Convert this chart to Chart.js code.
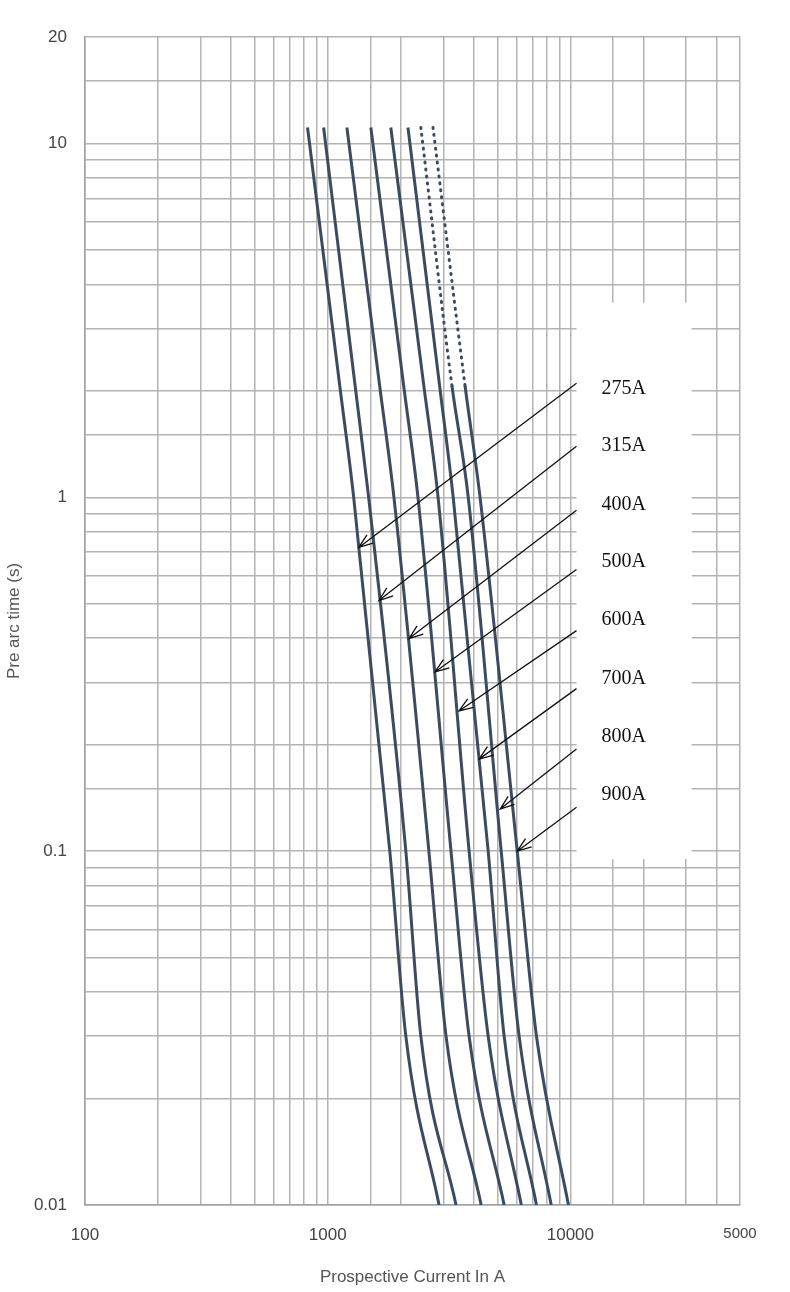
<!DOCTYPE html>
<html>
<head>
<meta charset="utf-8">
<script src="https://cdn.jsdelivr.net/npm/chart.js@4"></script>
<style>
  html, body { margin: 0; padding: 0; background: #fff; }
  #wrap { width: 790px; height: 1292px; }
</style>
</head>
<body>
<div id="wrap"><canvas id="fuseChart"></canvas></div>
<script>
// pre arc time points (s) shared by all curves
const times = [11.1, 2.07, 1, 0.1, 0.03, 0.01];

const ratings = ['275A', '315A', '400A', '500A', '600A', '700A', '800A', '900A'];

// prospective current (A) for each rating at the times above
const current275 = [826, 1121, 1280, 1803, 2099, 2877];
const current315 = [962, 1297, 1475, 2099, 2420, 3380];
const current400 = [1200, 1637, 1875, 2612, 3074, 4290];
const current500 = [1506, 2056, 2355, 3222, 3826, 5335];
const current600 = [1820, 2489, 2850, 3826, 4585, 6280];
const current700 = [2142, 2891, 3290, 4585, 5335, 7250];
const current800 = [2420, 3250, 3795, 5188, 6150, 8340];
const current900 = [2716, 3680, 4245, 6040, 7250, 9820];
const allCurrents = [current275, current315, current400, current500,
                     current600, current700, current800, current900];

// dotted (unverified) part above this time for the last two curves
const dottedAbove = 2.5;

// arrow annotation: start (at the label box) and tip (on the curve)
const arrowStartCurrent = 10600;
const arrowStartTime = [2.10, 1.395, 0.919, 0.625, 0.42, 0.288, 0.1945, 0.133];
const arrowTipCurrent = [1343, 1626, 2163, 2768, 3475, 4205, 5140, 6040];
const arrowTipTime = [0.722, 0.511, 0.399, 0.321, 0.249, 0.182, 0.1315, 0.1];
const labelCurrent = 13430;
const labelTime = [2.03, 1.395, 0.955, 0.659, 0.451, 0.307, 0.21, 0.144];
// white label box in data coordinates
const boxCurrent = [10600, 31600];
const boxTime = [3.55, 0.095];

const xTickLabels = { 100: '100', 1000: '1000', 10000: '10000', 50000: '5000' };
const yTickLabels = { 0.01: '0.01', 0.1: '0.1', 1: '1', 10: '10', 20: '20' };

const lineColor = '#3d4b60';

const datasets = allCurrents.map((cur, i) => ({
  label: ratings[i],
  data: cur.map((c, k) => ({ x: c, y: times[k] })),
  borderColor: lineColor,
  borderWidth: 3,
  pointRadius: 0,
  cubicInterpolationMode: 'monotone',
  fill: false,
  segment: i >= 6 ? {
    borderDash: ctx => ctx.p0.parsed.y > dottedAbove ? [1, 6] : undefined,
    borderCapStyle: ctx => ctx.p0.parsed.y > dottedAbove ? 'round' : 'butt'
  } : undefined
}));

const labelPlugin = {
  id: 'labelBox',
  afterDatasetsDraw(chart) {
    const ctx = chart.ctx;
    const xs = chart.scales.x, ys = chart.scales.y;
    const bx0 = xs.getPixelForValue(boxCurrent[0]);
    const bx1 = xs.getPixelForValue(boxCurrent[1]);
    const by0 = ys.getPixelForValue(boxTime[0]);
    const by1 = ys.getPixelForValue(boxTime[1]);
    ctx.save();
    ctx.fillStyle = '#fff';
    ctx.fillRect(bx0, by0, bx1 - bx0, by1 - by0);
    ctx.strokeStyle = '#111';
    ctx.fillStyle = '#111';
    ctx.lineWidth = 1.3;
    ratings.forEach((r, i) => {
      const sx = xs.getPixelForValue(arrowStartCurrent);
      const sy = ys.getPixelForValue(arrowStartTime[i]);
      const tx = xs.getPixelForValue(arrowTipCurrent[i]);
      const ty = ys.getPixelForValue(arrowTipTime[i]);
      ctx.beginPath();
      ctx.moveTo(sx, sy);
      ctx.lineTo(tx, ty);
      const a = Math.atan2(sy - ty, sx - tx);
      const h = 15;
      ctx.moveTo(tx + h * Math.cos(a - 0.35), ty + h * Math.sin(a - 0.35));
      ctx.lineTo(tx, ty);
      ctx.lineTo(tx + h * Math.cos(a + 0.35), ty + h * Math.sin(a + 0.35));
      ctx.stroke();
      ctx.font = '20px "Liberation Serif"';
      ctx.textBaseline = 'middle';
      ctx.fillText(r, xs.getPixelForValue(labelCurrent), ys.getPixelForValue(labelTime[i]));
    });
    ctx.restore();
  }
};

new Chart(document.getElementById('fuseChart'), {
  type: 'line',
  data: { datasets },
  plugins: [labelPlugin],
  options: {
    responsive: true,
    maintainAspectRatio: false,
    animation: false,
    layout: { padding: { top: 37, right: 50, left: 0, bottom: 0 } },
    plugins: { legend: { display: false }, tooltip: { enabled: false } },
    scales: {
      x: {
        type: 'logarithmic',
        min: 100,
        max: 50000,
        grid: { color: '#b3b3b3', lineWidth: 1.5, drawTicks: false },
        border: { color: '#a0a0a0', width: 1.5 },
        afterFit: s => { s.height = 87; },
        afterBuildTicks: s => {
          s.ticks = s.ticks.filter(t => t.value <= 50000);
          if (!s.ticks.find(t => t.value === 50000)) s.ticks.push({ value: 50000 });
        },
        ticks: {
          autoSkip: false,
          maxRotation: 0,
          padding: 20,
          color: '#444',
          font: ctx => ({ family: 'Liberation Sans', size: ctx.tick && ctx.tick.value === 50000 ? 15 : 17 }),
          callback: v => xTickLabels[v] || ''
        },
        title: {
          display: true,
          text: 'Prospective Current In A',
          color: '#555',
          font: { family: 'Liberation Sans', size: 17 },
          padding: { top: 0 }
        }
      },
      y: {
        type: 'logarithmic',
        min: 0.01,
        max: 20,
        grid: { color: '#b3b3b3', lineWidth: 1.5, drawTicks: false },
        border: { color: '#a0a0a0', width: 1.5 },
        afterFit: s => { s.width = 85; },
        afterBuildTicks: s => {
          if (!s.ticks.find(t => Math.abs(t.value - 20) < 1e-9)) s.ticks.push({ value: 20 });
        },
        ticks: {
          autoSkip: false,
          padding: 18,
          color: '#444',
          font: { family: 'Liberation Sans', size: 17 },
          callback: v => {
            const key = Object.keys(yTickLabels).find(k => Math.abs(k - v) < 1e-9 * Math.max(1, v));
            return key ? yTickLabels[key] : '';
          }
        },
        title: {
          display: true,
          text: 'Pre arc time (s)',
          color: '#555',
          font: { family: 'Liberation Sans', size: 17 },
          padding: { bottom: 0 }
        }
      }
    }
  }
});
</script>
</body>
</html>
